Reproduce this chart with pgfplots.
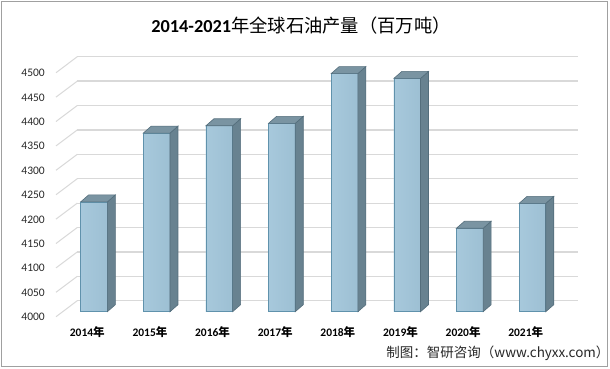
\documentclass[border=0pt]{standalone}
\usepackage{pgfplots}
\pgfplotsset{compat=1.18}
\usepackage{pgfplotstable}
\usepackage{fontspec}
\setmainfont{Carlito}
\newfontfamily\cjk{Noto Sans CJK SC}
\definecolor{gridc}{RGB}{217,217,217}
\definecolor{frontL}{RGB}{172,205,224}
\definecolor{frontR}{RGB}{152,187,207}
\definecolor{edgec}{RGB}{96,146,172}
\definecolor{sidec}{RGB}{104,130,144}
\definecolor{sideedge}{RGB}{84,110,124}
\definecolor{topc}{RGB}{122,148,162}
\definecolor{borderc}{RGB}{160,160,160}
\definecolor{txt}{RGB}{40,40,40}

\pgfdeclarehorizontalshading{frontshade}{100bp}{color(0bp)=(frontL); color(100bp)=(frontR)}

\pgfplotstableread{
x v
0 4225
1 4366
2 4381
3 4386
4 4488
5 4478
6 4171
7 4222
}\data

\pgfdeclareplotmark{cubetop}{%
  \pgfmathsetmacro\hh{(\vv-4000)*0.488}%
  \pgfmathsetmacro\yb{7-\hh}%
  \pgfmathsetmacro\yc{-\hh}%
  \pgfsetlinewidth{0.6pt}%
  % front face
  \pgfsetstrokecolor{edgec}%
  \pgfpathrectanglecorners{\pgfqpoint{-13.35pt}{0pt}}{\pgfqpoint{13.35pt}{\yc pt}}%
  \pgfshadepath{frontshade}{0}%
  \pgfusepath{stroke}%
  % side face
  \pgfsetstrokecolor{sideedge}%
  \pgfsetfillcolor{sidec}%
  \pgfpathmoveto{\pgfqpoint{13.35pt}{0pt}}%
  \pgfpathlineto{\pgfqpoint{21.35pt}{7pt}}%
  \pgfpathlineto{\pgfqpoint{21.35pt}{\yb pt}}%
  \pgfpathlineto{\pgfqpoint{13.35pt}{\yc pt}}%
  \pgfpathclose
  \pgfusepath{fill,stroke}%
  % top face
  \pgfsetfillcolor{topc}%
  \pgfpathmoveto{\pgfqpoint{-13.35pt}{0pt}}%
  \pgfpathlineto{\pgfqpoint{13.35pt}{0pt}}%
  \pgfpathlineto{\pgfqpoint{21.35pt}{7pt}}%
  \pgfpathlineto{\pgfqpoint{-5.35pt}{7pt}}%
  \pgfpathclose
  \pgfusepath{fill,stroke}%
}
\newcommand{\yr}[1]{#1{\cjk\bfseries 年}}

\begin{document}
\begin{tikzpicture}
\useasboundingbox (0,0) rectangle (610pt,368pt);
\fill[white] (0,0) rectangle (610pt,368pt);
\draw[borderc, line width=1pt] (1pt,1.3pt) rectangle (607pt,367pt);
% left side wall diagonals
\foreach \k in {0,...,10}{
  \draw[gridc, line width=1pt] ({56pt},{51.3pt+24.4pt*\k}) -- ({77.3pt},{67.3pt+24.4pt*\k});
}
\begin{axis}[
  at={(62.7pt,56.3pt)}, anchor=south west,
  x=62.63pt, y=0.488pt,
  xmin=-0.5, xmax=7.5, ymin=4000, ymax=4530,
  axis line style={draw=none},
  tick style={draw=none},
  ytick={4000,4050,...,4500},
  /pgf/number format/assume math mode=true,
  /pgf/number format/1000 sep={},
  yticklabel style={font=\fontsize{11.5}{13}\selectfont, text=txt, anchor=east, inner sep=0pt, xshift=-17.7pt, yshift=-5.3pt},
  xtick={0,...,7},
  xticklabels={\yr{2014},\yr{2015},\yr{2016},\yr{2017},\yr{2018},\yr{2019},\yr{2020},\yr{2021}},
  xticklabel style={font=\fontsize{11.5}{13}\selectfont\bfseries, text=black, anchor=center, inner sep=0pt, xshift=-6.7pt, yshift=-20.3pt},
  ymajorgrids,
  major grid style={draw=gridc, line width=1.2pt, xshift=14.6pt, yshift=11pt},
]
\addplot[ybar, bar width=26.7pt, draw=edgec, line width=0.6pt, fill=frontL] table[x=x, y=v]{\data};
\addplot[only marks, mark=cubetop, visualization depends on={rawy \as \vv}] table[x=x, y=v]{\data};
\end{axis}
\node[font=\fontsize{18.3}{20}\selectfont] at (301pt,342pt) {{\bfseries 2014-2021}{\cjk 年全球石油产量（百万吨）}};
\node[anchor=east, text=txt, font=\cjk\fontsize{13.5}{15}\selectfont] at (613pt,15pt) {制图：智研咨询（www.chyxx.com）};
\end{tikzpicture}
\end{document}
